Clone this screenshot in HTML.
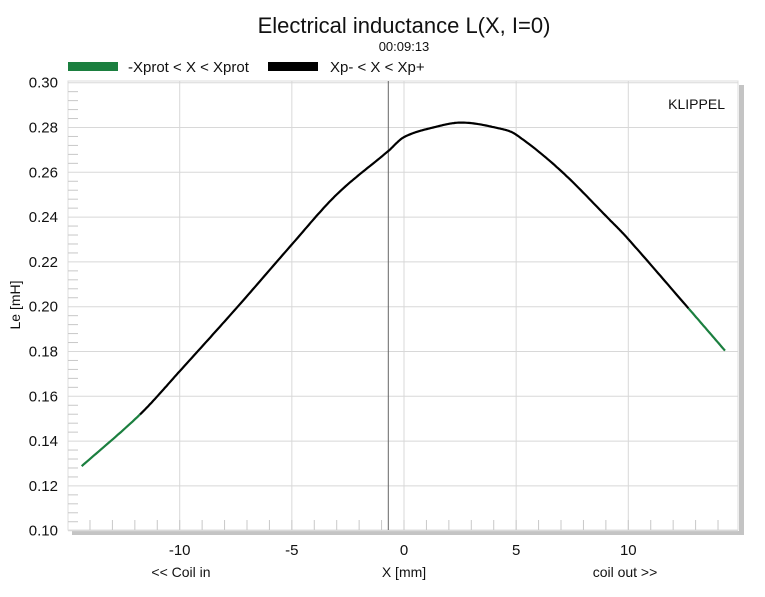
<!DOCTYPE html>
<html><head><meta charset="utf-8"><style>
body{margin:0;background:#fff;width:765px;height:592px;overflow:hidden;font-family:"Liberation Sans",Arial,sans-serif}
svg text{font-family:"Liberation Sans",Arial,sans-serif}
</style></head><body>
<svg id="chart" width="765" height="592" viewBox="0 0 765 592">
<text x="404" y="33" font-size="22" text-anchor="middle" fill="#111">Electrical inductance L(X, I=0)</text>
<text x="404" y="51" font-size="13" text-anchor="middle" fill="#111">00:09:13</text>
<rect x="68" y="62" width="50" height="9" fill="#1b7f3f"/>
<text x="128" y="72" font-size="15" fill="#111">-Xprot &lt; X &lt; Xprot</text>
<rect x="268" y="62" width="50" height="9" fill="#000"/>
<text x="330" y="72" font-size="15" fill="#111">Xp- &lt; X &lt; Xp+</text>
<rect x="739" y="85" width="5" height="450" fill="#c4c4c4"/>
<rect x="72" y="531" width="672" height="4" fill="#c4c4c4"/>
<rect x="68" y="81" width="670" height="449" fill="#fff" stroke="#ddd"/>
<g id="grid"></g><g id="ticks"></g><g id="series"></g>
<text x="725" y="109" font-size="14" text-anchor="end" fill="#111">KLIPPEL</text>
<text transform="translate(20,305) rotate(-90)" font-size="14" text-anchor="middle" fill="#111">Le [mH]</text>
<text x="404" y="577" font-size="14" text-anchor="middle" fill="#111">X [mm]</text>
<text x="181" y="577" font-size="14" text-anchor="middle" fill="#111">&lt;&lt; Coil in</text>
<text x="625" y="577" font-size="14" text-anchor="middle" fill="#111">coil out &gt;&gt;</text>
</svg>
<script>
const xValues=[-14.37,-11.77,-10,-7.46,-5,-3,-0.7,0,1.3,2.6,4.29,5,6.96,9.18,9.97,12.68,14.31];
const leValues=[0.1288,0.1519,0.1712,0.1995,0.2278,0.2501,0.2695,0.2757,0.2800,0.2822,0.2795,0.2768,0.2610,0.2387,0.2305,0.1993,0.1804];
const protLimits=[-11.77,12.68];
const xTicks=[-10,-5,0,5,10];
const yTicks=[0.10,0.12,0.14,0.16,0.18,0.20,0.22,0.24,0.26,0.28,0.30];
const cursorX=[-0.7];
const NS="http://www.w3.org/2000/svg";
const xS=v=>404+v*22.43;
const yS=v=>530.7-(v-0.10)*2240;
function mk(tag,attrs,parent,txt){const e=document.createElementNS(NS,tag);for(const k in attrs)e.setAttribute(k,attrs[k]);if(txt!==undefined)e.textContent=txt;parent.appendChild(e);return e;}
const grid=document.getElementById('grid'),ticks=document.getElementById('ticks'),series=document.getElementById('series');
yTicks.forEach(t=>{const y=yS(t);
 const l=mk('line',{x1:68,x2:738,y1:y,y2:y,stroke:'#d8d8d8','stroke-width':1},grid);
 
 
 const tx=mk('text',{x:58,y:y+5,'font-size':15,'text-anchor':'end',fill:'#111'},ticks,t.toFixed(2));
 
 
});
for(let v=0.104;v<0.3;v+=0.004){if(Math.abs((v*50)-Math.round(v*50))<1e-6)continue;const y=yS(v);
 const m=mk('line',{x1:68,x2:78,y1:y,y2:y,stroke:'#c8c8c8','stroke-width':1},ticks);
 
 }
xTicks.forEach(t=>{const x=xS(t);
 const l=mk('line',{x1:x,x2:x,y1:81,y2:530,stroke:'#d8d8d8','stroke-width':1},grid);
 
 
 const tx=mk('text',{x:x,y:555,'font-size':15,'text-anchor':'middle',fill:'#111'},ticks,String(t));
 
 
});
for(let v=-14;v<=14;v++){const x=xS(v);
 const m=mk('line',{x1:x,x2:x,y1:520,y2:530,stroke:'#c8c8c8','stroke-width':1},ticks);
 
 }
cursorX.forEach(c=>{const cl=mk('line',{x1:xS(c),x2:xS(c),y1:81,y2:530,stroke:'#666','stroke-width':1},grid);
 
 });
// Cubic Hermite in X with centred slopes
const n=xValues.length;
const slopes=xValues.map((x,i)=>{const a=Math.max(0,i-1),b=Math.min(n-1,i+1);return (leValues[b]-leValues[a])/(xValues[b]-xValues[a]);});
const pts=[];
for(let i=0;i<n-1;i++){const x0=xValues[i],x1=xValues[i+1],h=x1-x0,y0=leValues[i],y1=leValues[i+1];
 for(let s=0;s<24;s++){const t=s/24,t2=t*t,t3=t2*t;
  const y=(2*t3-3*t2+1)*y0+(t3-2*t2+t)*h*slopes[i]+(-2*t3+3*t2)*y1+(t3-t2)*h*slopes[i+1];
  pts.push([x0+t*h,y]);}}
pts.push([xValues[n-1],leValues[n-1]]);
const path=arr=>arr.map((p,i)=>(i?'L':'M')+xS(p[0]).toFixed(1)+','+yS(p[1]).toFixed(1)).join('');
const left=pts.filter(p=>p[0]<=protLimits[0]),mid=pts.filter(p=>p[0]>=protLimits[0]&&p[0]<=protLimits[1]),right=pts.filter(p=>p[0]>=protLimits[1]);
const gl=mk('path',{d:path(left),fill:'none',stroke:'#1b7f3f','stroke-width':2.2},series);


const gr=mk('path',{d:path(right),fill:'none',stroke:'#1b7f3f','stroke-width':2.2},series);


const bk=mk('path',{d:path(mid),fill:'none',stroke:'#000','stroke-width':2.2},series);


</script>
</body></html>
